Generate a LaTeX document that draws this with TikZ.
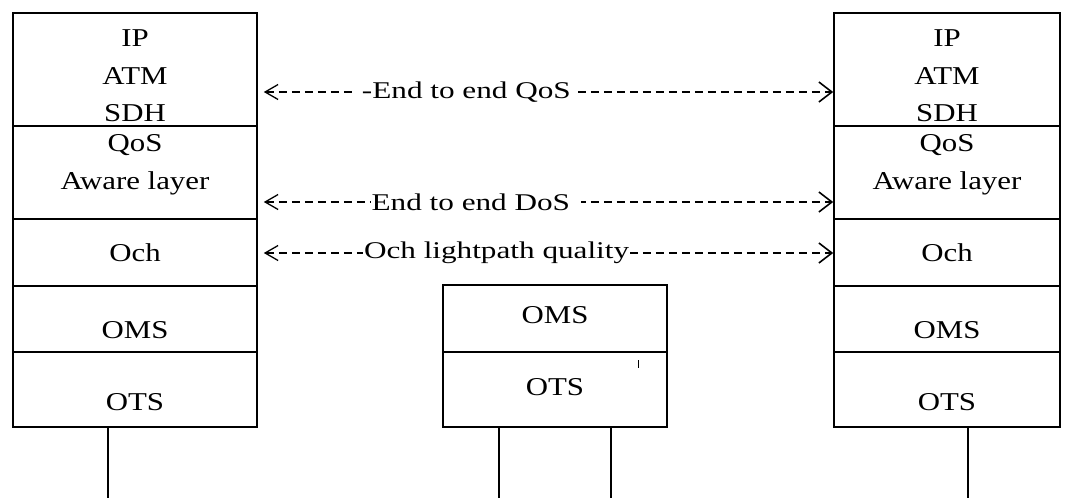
\documentclass[tikz,border=0pt]{standalone}
\usepackage{fontspec}
\setmainfont{Liberation Serif}
\newfontfamily\boxfont{Liberation Serif}[FakeStretch=1.2]
\newfontfamily\linkfont{Liberation Serif}[FakeStretch=1.3]
\usetikzlibrary{arrows.meta}

\tikzset{
  layer/.style={draw, line width=1.6pt, inner sep=0pt, rectangle},
  lefthalf/.style={layer, minimum width=244pt},
  righthalf/.style={layer, minimum width=226pt},
  midhalf/.style={layer, minimum width=224pt},
  lbl/.style={inner sep=0pt, align=center,
    font=\boxfont\fontsize{25.7}{37.5}\selectfont},
  link/.style={line width=1.6pt, dash pattern=on 8pt off 5pt,
    {Straight Barb[length=13pt,width=15pt,line width=1.3pt]}-{Straight Barb[length=13pt,width=20pt,line width=1.6pt]}},
  linklbl/.style={fill=white, inner ysep=2pt,
    font=\linkfont\fontsize{24}{28}\selectfont},
  feeder/.style={line width=1.4pt}
}

\begin{document}
\begin{tikzpicture}[x=1pt,y=-1pt]
\useasboundingbox (0,0) rectangle (1068,498);

% left terminal stack
\node[lefthalf, minimum height=113pt] (L1) at (135,69.5) {};
\node[lefthalf, minimum height=93pt]  (L2) at (135,172.5) {};
\node[lefthalf, minimum height=67pt]  (L3) at (135,252.5) {};
\node[lefthalf, minimum height=66pt]  (L4) at (135,319) {};
\node[lefthalf, minimum height=75pt]  (L5) at (135,389.5) {};
\node[lbl] (tL1) at (135,76) {IP\\ATM\\SDH};
\node[lbl] (tL2) at (135,165) {QoS\\Aware layer};
\node[lbl] (tL3) at (135,253) {Och};
\node[lbl] (tL4) at (135,330) {OMS};
\node[lbl] (tL5) at (135,402) {OTS};

% intermediate line-system stack
\node[midhalf, minimum height=67pt] (M4) at (555,318.5) {};
\node[midhalf, minimum height=75pt] (M5) at (555,389.5) {};
\node[lbl] (tM4) at (555,315) {OMS};
\node[lbl] (tM5) at (555,387) {OTS};

% right terminal stack
\node[righthalf, minimum height=113pt] (R1) at (947,69.5) {};
\node[righthalf, minimum height=93pt]  (R2) at (947,172.5) {};
\node[righthalf, minimum height=67pt]  (R3) at (947,252.5) {};
\node[righthalf, minimum height=66pt]  (R4) at (947,319) {};
\node[righthalf, minimum height=75pt]  (R5) at (947,389.5) {};
\node[lbl] (tR1) at (947,76) {IP\\ATM\\SDH};
\node[lbl] (tR2) at (947,165) {QoS\\Aware layer};
\node[lbl] (tR3) at (947,253) {Och};
\node[lbl] (tR4) at (947,330) {OMS};
\node[lbl] (tR5) at (947,402) {OTS};

% fibre attachments
\coordinate (fL) at (108,498);
\coordinate (fM1) at (499,498);
\coordinate (fM2) at (611,498);
\coordinate (fR) at (968,498);
\draw[feeder] (L5.south -| fL) -- (fL);
\draw[feeder] (M5.south -| fM1) -- (fM1);
\draw[feeder] (M5.south -| fM2) -- (fM2);
\draw[feeder] (R5.south -| fR) -- (fR);
\coordinate (tick) at (638,360);
\draw[line width=1pt] (tick) -- ++(0,8);

% end-to-end peer relations
\coordinate (y1) at (0,92);
\coordinate (y2) at (0,202);
\coordinate (y3) at (0,253);
\draw[link, shorten <=6pt] (L1.east |- y1) -- (R1.west |- y1)
  node[linklbl, pos=0.3625, inner xsep=7pt] (q1) {-End to end QoS};
\draw[link, shorten <=6pt] (L2.east |- y2) -- (R2.west |- y2)
  node[linklbl, pos=0.379, inner xsep=1pt] (q2) {End to end DoS\hspace*{10pt}};
\draw[link, shorten <=6pt] (L3.east |- y3) -- (R3.west |- y3)
  node[linklbl, pos=0.415, inner xsep=1pt] (q3) {Och lightpath quality};
\end{tikzpicture}
\end{document}
